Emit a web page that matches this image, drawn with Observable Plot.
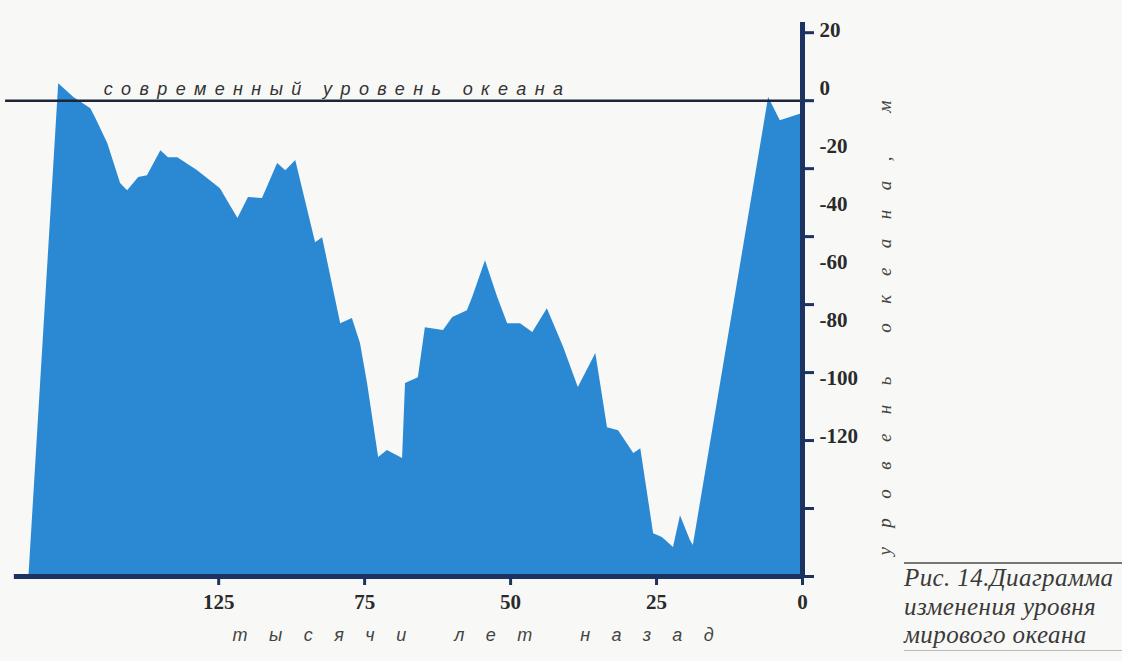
<!DOCTYPE html>
<html>
<head>
<meta charset="utf-8">
<script src="https://cdn.jsdelivr.net/npm/d3@7"></script>
<script src="https://cdn.jsdelivr.net/npm/@observablehq/plot@0.6"></script>
<style>
  html, body { margin: 0; padding: 0; background: #f8f8f6; }
  #wrap { position: relative; width: 1122px; height: 661px; overflow: hidden; }
  #caption {
    position: absolute; left: 904px; top: 562px; width: 218px;
    font-family: "Liberation Serif", "DejaVu Serif", serif; font-style: italic;
    font-size: 25px; line-height: 28.5px; color: #3a3a3a; letter-spacing: 0.4px;
    border-top: 2px solid #777; border-bottom: 1px solid #bbb; padding-top: 0px; white-space: nowrap;
  }
</style>
</head>
<body>
<div id="wrap"><div id="chart"></div>
<div id="caption">Рис. 14.Диаграмма<br>изменения уровня<br>мирового океана</div>
</div>
<script>
// thousands of years ago
const years = [132.5,127.4,124.8,121.9,121.1,119.0,116.8,115.6,113.7,112.2,109.9,108.6,107.0,103.6,99.7,96.7,94.9,92.5,89.9,88.5,86.8,83.4,82.2,79.1,77.1,75.7,74.5,72.6,71.1,68.5,68.0,65.8,64.6,61.5,59.9,57.4,56.5,54.3,52.2,50.5,48.3,46.2,43.7,40.9,38.4,35.4,33.4,31.5,28.9,27.7,25.5,24.0,22.1,20.9,19.2,18.7,5.8,3.8,0];
// sea level, m
const levels = [-140,5.0,0.9,-2.4,-5.0,-12.6,-24.4,-26.5,-22.6,-22.1,-14.7,-16.8,-16.8,-20.6,-25.9,-34.7,-28.5,-28.8,-18.5,-20.6,-17.6,-41.8,-40.3,-65.6,-64.1,-71.5,-83.2,-105.0,-102.9,-105.3,-83.2,-81.5,-66.8,-67.6,-63.8,-61.8,-57.9,-47.1,-57.9,-65.6,-65.6,-68.2,-61.2,-72.6,-84.4,-74.4,-96.2,-97.1,-103.8,-102.4,-127.4,-128.5,-131.5,-122.1,-129.4,-130.9,0.9,-5.9,-3.8];

const xTicks = [100, 75, 50, 25, 0];
const xTickLabels = ["125", "75", "50", "25", "0"];
const yTicks = [20, 0, -20, -40, -60, -80, -100, -120, -140];
const yLabelValues = [20, 0, -20, -40, -60, -80, -100, -120];
const refLabel = "современный уровень океана";
const xTitle = "тысячи лет назад";
const yTitle = "уровень океана, м";

const data = years.map((t, i) => ({t, level: levels[i]}));
const xLabelMap = new Map(xTicks.map((d, i) => [d, xTickLabels[i]]));
const yMin = -140, yMax = 23, xMax = 136;
// printed tick labels are set slightly tighter than the tick marks
const labelPos = v => 20.65 - (20 - v) * 0.853;

const navy = "#1c3260";
const blue = "#2b89d3";
const serif = "Liberation Serif, DejaVu Serif, serif";
const sans = "Liberation Sans, Arial, sans-serif";

const chart = Plot.plot({
  width: 1122, height: 661,
  marginLeft: 8, marginRight: 320, marginTop: 22, marginBottom: 85,
  x: {domain: [xMax, 0]},
  y: {domain: [yMin, yMax]},
  style: {background: "transparent", overflow: "visible"},
  marks: [
    Plot.areaY(data, {x: "t", y1: () => yMin, y2: "level", fill: blue, curve: "linear"}),
    Plot.ruleY([0], {x1: xMax + 0.5, x2: 0, stroke: "#1e2536", strokeWidth: 2.5}),
    Plot.text([refLabel], {x: 119.7, y: 0, text: d => d, textAnchor: "start", dy: -11,
      fontSize: 18, fontStyle: "italic", fontFamily: sans, fill: "#333"}),
    Plot.ruleY([yMin], {x1: xMax - 1, x2: 0, stroke: navy, strokeWidth: 5}),
    Plot.ruleX([0], {y1: yMin - 0.6, y2: yMax, stroke: navy, strokeWidth: 5}),
    Plot.axisX(xTicks, {anchor: "bottom", tickFormat: d => xLabelMap.get(d), tickSize: 9, tickPadding: 9,
      fontSize: 21, fontFamily: serif, fontWeight: "bold", stroke: navy, strokeWidth: 3, fill: "#2a2a2a", label: null}),
    Plot.axisY(yTicks, {anchor: "right", tickFormat: () => "", tickSize: 11, stroke: navy, strokeWidth: 3, label: null}),
    Plot.text(yLabelValues, {x: 0, y: labelPos, text: d => String(d), textAnchor: "start", dx: 17,
      fontSize: 21, fontFamily: serif, fontWeight: "bold", fill: "#2a2a2a"}),
    Plot.text([yTitle], {frameAnchor: "bottom-right", text: d => d, rotate: -90, textAnchor: "start", dx: 88, dy: -21,
      fontSize: 19, fontStyle: "italic", fontFamily: serif, fill: "#444"}),
    Plot.text([xTitle], {frameAnchor: "bottom-left", text: d => d, textAnchor: "start", dy: 64, dx: 224,
      fontSize: 18, fontStyle: "italic", fontFamily: sans, fill: "#444"})
  ]
});
document.getElementById("chart").appendChild(chart);
const spacing = new Map([[refLabel, "8.4px"], [yTitle, "19.5px"], [xTitle, "21.5px"]]);
chart.querySelectorAll("text").forEach(t => {
  const s = spacing.get(t.textContent);
  if (s) t.setAttribute("letter-spacing", s), t.style.letterSpacing = s;
});
</script>
</body>
</html>
